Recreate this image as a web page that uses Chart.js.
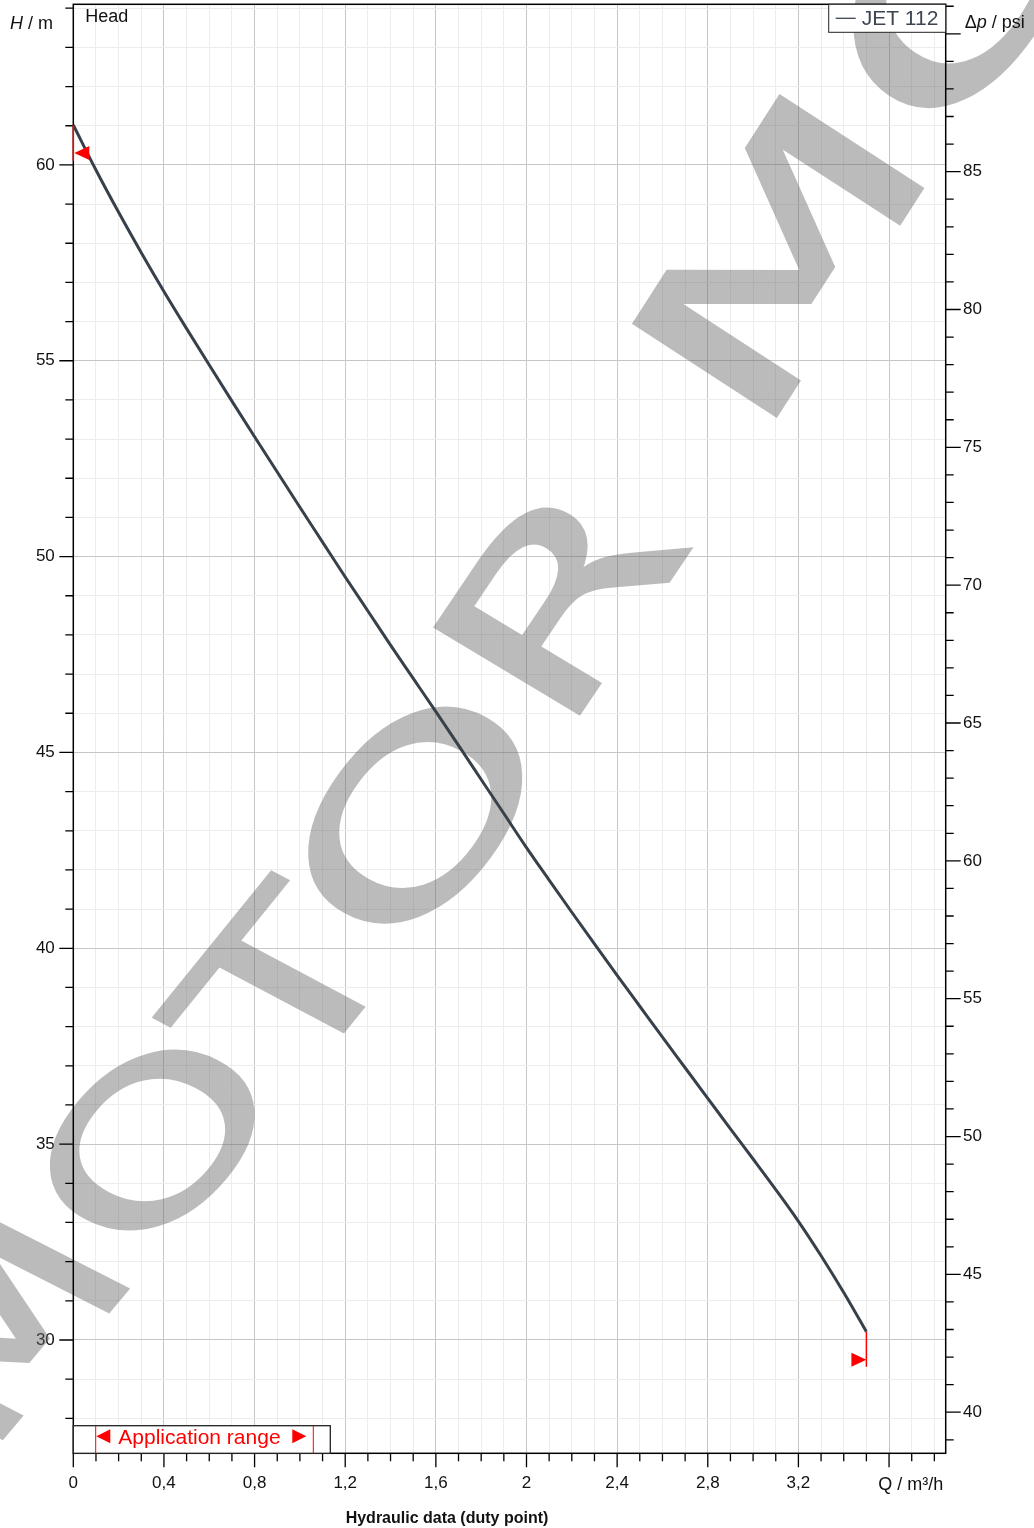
<!DOCTYPE html>
<html>
<head>
<meta charset="utf-8">
<title>JET 112 - Hydraulic data</title>
<script src="https://cdn.jsdelivr.net/npm/chart.js@4.4.1/dist/chart.umd.min.js"></script>
<style>
  html, body { margin: 0; padding: 0; background: #fff; }
  #wrap { width: 1034px; height: 1528px; }
</style>
</head>
<body>
<div id="wrap"><canvas id="chart" width="1034" height="1528"></canvas></div>
<script>
// Pump curve JET 112
const seriesName = 'JET 112';
const flowQ = [0, 0.1, 0.2, 0.3, 0.4, 0.5, 0.6, 0.7, 0.8, 0.9, 1.0, 1.1, 1.2, 1.3, 1.4, 1.5, 1.6, 1.7,
               1.8, 1.9, 2.0, 2.1, 2.2, 2.3, 2.4, 2.5, 2.6, 2.7, 2.8, 2.9, 3.0, 3.1, 3.2, 3.3, 3.4, 3.5];
const headH = [61.02, 59.87, 58.79, 57.76, 56.77, 55.82, 54.89, 53.97, 53.06, 52.16, 51.26, 50.37, 49.48,
               48.61, 47.74, 46.89, 46.04, 45.18, 44.31, 43.44, 42.57, 41.74, 40.92, 40.11, 39.31, 38.52,
               37.73, 36.95, 36.17, 35.39, 34.62, 33.84, 33.03, 32.15, 31.21, 30.21];

// axis ranges and tick steps
const flowRange = [0, 3.85];
const headRange = [27.107, 64.1];
const psiRange = [38.51, 91.07];
const flowStep = [0.1, 0.4];   // minor, labelled
const headStep = [1, 5];
const psiStep = [1, 5];
const flowUnitAt = 3.6;        // tick label replaced by the unit
const psiUnitAt = 90;

// watermark letters (decoration only): centre, baseline and upright vectors (px per em, degrees)
const watermark = [
  { ch: 'M', x: -5,  y: 1328, a: 290, aAng: -50,   b: 215, bAng: 27 },
  { ch: 'O', x: 152, y: 1140, a: 300, aAng: -50.3, b: 217, bAng: 27.5 },
  { ch: 'T', x: 283, y: 982,  a: 300, aAng: -51,   b: 218, bAng: 28 },
  { ch: 'O', x: 415, y: 815,  a: 350, aAng: -54,   b: 225, bAng: 29 },
  { ch: 'R', x: 556, y: 598,  a: 345, aAng: -56,   b: 230, bAng: 31 },
  { ch: 'M', x: 778, y: 256,  a: 400, aAng: -57.3, b: 232, bAng: 33 },
  { ch: 'O', x: 965, y: -28,  a: 420, aAng: -58,   b: 240, bAng: 34 }
];

const FONT = '"Liberation Sans", Arial, Helvetica, sans-serif';
const majorGrid = '#c6c6c6';
const minorGrid = '#ececec';
const curveColor = '#37414b';
const red = '#ff0000';

const isStep = (v, step) => Math.abs(v / step - Math.round(v / step)) < 1e-6;
const near = (a, b) => Math.abs(a - b) < 1e-6;
const comma = v => String(Math.round(v * 10) / 10).replace('.', ',');

Chart.defaults.font.family = FONT;
Chart.defaults.color = '#111';

// watermark, ticks, frame, legend box and labels
const decor = {
  id: 'decor',
  beforeDatasetsDraw(chart) {
    const ctx = chart.ctx;
    const r = chart.currentDevicePixelRatio || 1;
    const off = document.createElement('canvas');
    off.width = chart.canvas.width;
    off.height = chart.canvas.height;
    const o = off.getContext('2d');
    o.fillStyle = o.strokeStyle = '#696969';
    o.font = '100px "DejaVu Sans"';
    o.textAlign = 'center';
    o.textBaseline = 'alphabetic';
    o.lineWidth = 1.6;
    watermark.forEach(l => {
      const ar = l.aAng * Math.PI / 180, br = l.bAng * Math.PI / 180;
      o.setTransform(r * l.a / 100 * Math.cos(ar), r * l.a / 100 * Math.sin(ar),
                     r * l.b / 100 * Math.cos(br), r * l.b / 100 * Math.sin(br), r * l.x, r * l.y);
      // centre of the capital height sits on the anchor
      o.fillText(l.ch, 0, 36.5);
      o.strokeText(l.ch, 0, 36.5);
    });
    ctx.save();
    ctx.setTransform(1, 0, 0, 1, 0, 0);
    ctx.globalAlpha = 0.45;
    ctx.drawImage(off, 0, 0);
    ctx.restore();
  },
  afterDraw(chart) {
    const ctx = chart.ctx;
    const ca = chart.chartArea;
    const xs = chart.scales.x, ys = chart.scales.y, ps = chart.scales.y2;
    ctx.save();

    // frame
    ctx.strokeStyle = '#000';
    ctx.lineWidth = 1.5;
    ctx.strokeRect(ca.left, ca.top, ca.right - ca.left, ca.bottom - ca.top);

    // tick marks
    ctx.lineWidth = 1.3;
    ctx.beginPath();
    xs.ticks.forEach(t => {
      const p = xs.getPixelForValue(t.value);
      const len = isStep(t.value, flowStep[1]) ? 14 : 8;
      ctx.moveTo(p, ca.bottom); ctx.lineTo(p, ca.bottom + len);
    });
    ys.ticks.forEach(t => {
      const p = ys.getPixelForValue(t.value);
      const len = isStep(t.value, headStep[1]) ? 14 : 8;
      ctx.moveTo(ca.left, p); ctx.lineTo(ca.left - len, p);
    });
    ps.ticks.forEach(t => {
      const p = ps.getPixelForValue(t.value);
      const len = isStep(t.value, psiStep[1]) ? 15 : 8;
      ctx.moveTo(ca.right, p); ctx.lineTo(ca.right + len, p);
    });
    ctx.stroke();

    // legend box
    const lx = ca.right - 117;
    ctx.fillStyle = '#fff';
    ctx.fillRect(lx, ca.top, 117, 28);
    ctx.strokeStyle = '#222';
    ctx.lineWidth = 1;
    ctx.strokeRect(lx, ca.top, 117, 28);
    ctx.strokeStyle = '#3c4550';
    ctx.lineWidth = 1.3;
    ctx.beginPath();
    ctx.moveTo(lx + 7, ca.top + 14); ctx.lineTo(lx + 27, ca.top + 14);
    ctx.stroke();
    ctx.fillStyle = '#3c4550';
    ctx.font = '21px ' + FONT;
    ctx.textAlign = 'left';
    ctx.textBaseline = 'alphabetic';
    ctx.fillText(seriesName, lx + 33, ca.top + 20.5);

    // application range box
    const ab = ca.bottom - 27.6;
    ctx.fillStyle = '#fff';
    ctx.fillRect(ca.left, ab, 257, 27.6);
    ctx.strokeStyle = '#222';
    ctx.lineWidth = 1.3;
    ctx.strokeRect(ca.left, ab, 257, 27.6);
    ctx.strokeStyle = red;
    ctx.lineWidth = 1;
    ctx.beginPath();
    ctx.moveTo(ca.left + 22.4, ab); ctx.lineTo(ca.left + 22.4, ca.bottom);
    ctx.moveTo(ca.left + 240, ab); ctx.lineTo(ca.left + 240, ca.bottom);
    ctx.stroke();
    ctx.fillStyle = red;
    ctx.beginPath();
    ctx.moveTo(ca.left + 23, ab + 10.5); ctx.lineTo(ca.left + 37, ab + 3.5); ctx.lineTo(ca.left + 37, ab + 17.5);
    ctx.closePath();
    ctx.moveTo(ca.left + 233, ab + 10.5); ctx.lineTo(ca.left + 219, ab + 3.5); ctx.lineTo(ca.left + 219, ab + 17.5);
    ctx.closePath();
    ctx.fill();
    ctx.font = '21px ' + FONT;
    ctx.fillText('Application range', ca.left + 45, ab + 18.5);

    // application range markers at both ends of the curve
    const n = flowQ.length - 1;
    const sx = xs.getPixelForValue(flowQ[0]), sy = ys.getPixelForValue(headH[0]);
    const ex = xs.getPixelForValue(flowQ[n]), ey = ys.getPixelForValue(headH[n]);
    ctx.strokeStyle = red;
    ctx.lineWidth = 1.5;
    ctx.beginPath();
    ctx.moveTo(sx, sy); ctx.lineTo(sx, sy + 36);
    ctx.moveTo(ex, ey); ctx.lineTo(ex, ey + 35);
    ctx.stroke();
    ctx.beginPath();
    ctx.moveTo(sx + 1, sy + 28); ctx.lineTo(sx + 16, sy + 21); ctx.lineTo(sx + 16, sy + 35);
    ctx.closePath();
    ctx.moveTo(ex, ey + 28); ctx.lineTo(ex - 15, ey + 21); ctx.lineTo(ex - 15, ey + 35);
    ctx.closePath();
    ctx.fill();

    // axis captions
    ctx.fillStyle = '#111';
    ctx.textAlign = 'left';
    ctx.font = '18px ' + FONT;
    ctx.fillText('Head', ca.left + 12, ca.top + 17.4);

    let x = 10;
    ctx.font = 'italic 18px ' + FONT;
    ctx.fillText('H', x, 29);
    x += ctx.measureText('H').width;
    ctx.font = '18px ' + FONT;
    ctx.fillText(' / m', x, 29);

    x = ca.right + 19;
    ctx.fillText('\u0394', x, 28);
    x += ctx.measureText('\u0394').width;
    ctx.font = 'italic 18px ' + FONT;
    ctx.fillText('p', x, 28);
    x += ctx.measureText('p').width;
    ctx.font = '18px ' + FONT;
    ctx.fillText(' / psi', x, 28);

    ctx.textAlign = 'right';
    ctx.fillText('Q / m\u00b3/h', ca.right - 2.5, 1490);

    ctx.textAlign = 'center';
    ctx.font = 'bold 16px ' + FONT;
    ctx.fillText('Hydraulic data (duty point)', 447, 1523);

    ctx.restore();
  }
};

const transparent = 'rgba(0,0,0,0)';

new Chart(document.getElementById('chart'), {
  type: 'line',
  data: {
    datasets: [{
      label: seriesName,
      data: flowQ.map((q, i) => ({ x: q, y: headH[i] })),
      borderColor: curveColor,
      borderWidth: 3,
      pointRadius: 0,
      cubicInterpolationMode: 'monotone',
      fill: false,
      yAxisID: 'y'
    }]
  },
  options: {
    responsive: false,
    maintainAspectRatio: false,
    animation: false,
    events: [],
    layout: { padding: { top: 4.3, left: 0, right: 0, bottom: 0 } },
    plugins: {
      legend: { display: false },
      tooltip: { enabled: false }
    },
    scales: {
      x: {
        type: 'linear',
        position: 'bottom',
        min: flowRange[0],
        max: flowRange[1],
        border: { display: false },
        grid: {
          color: c => (c.tick && isStep(c.tick.value, flowStep[1])) ? majorGrid : minorGrid,
          lineWidth: 1,
          tickLength: 14,
          tickColor: transparent
        },
        ticks: {
          stepSize: flowStep[0],
          includeBounds: false,
          autoSkip: false,
          maxRotation: 0,
          padding: 6,
          font: { size: 17 },
          callback: v => (isStep(v, flowStep[1]) && !near(v, flowUnitAt)) ? comma(v) : ''
        },
        afterFit: s => { s.height = 1528 - 1453.3; s.paddingLeft = 0; s.paddingRight = 0; }
      },
      y: {
        type: 'linear',
        position: 'left',
        min: headRange[0],
        max: headRange[1],
        border: { display: false },
        grid: {
          color: c => (c.tick && isStep(c.tick.value, headStep[1])) ? majorGrid : minorGrid,
          lineWidth: 1,
          tickLength: 14,
          tickColor: transparent
        },
        ticks: {
          stepSize: headStep[0],
          includeBounds: false,
          autoSkip: false,
          padding: 4.5,
          font: { size: 17 },
          callback: v => isStep(v, headStep[1]) ? String(v) : ''
        },
        afterFit: s => { s.width = 73.3; s.paddingTop = 0; s.paddingBottom = 0; }
      },
      y2: {
        type: 'linear',
        position: 'right',
        min: psiRange[0],
        max: psiRange[1],
        border: { display: false },
        grid: {
          drawOnChartArea: false,
          tickLength: 13,
          tickColor: transparent
        },
        ticks: {
          stepSize: psiStep[0],
          includeBounds: false,
          autoSkip: false,
          padding: 4.3,
          font: { size: 17 },
          callback: v => (isStep(v, psiStep[1]) && !near(v, psiUnitAt)) ? String(v) : ''
        },
        afterFit: s => { s.width = 1034 - 945.7; s.paddingTop = 0; s.paddingBottom = 0; }
      }
    }
  },
  plugins: [decor]
});
</script>
</body>
</html>
